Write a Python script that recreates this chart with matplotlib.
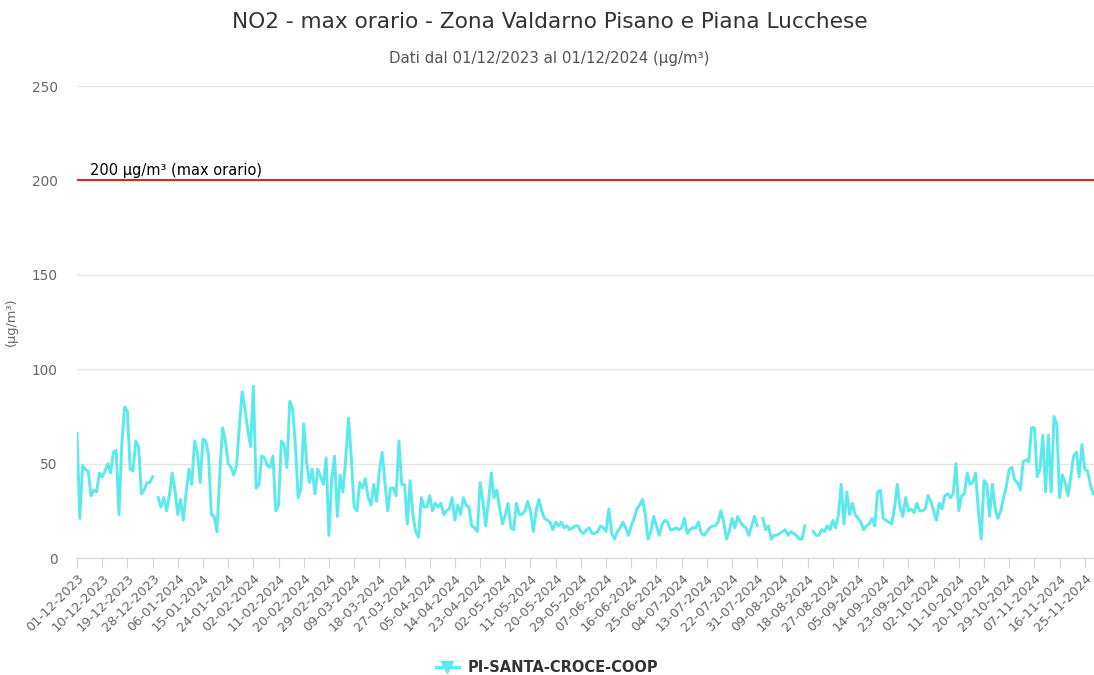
import numpy as np
import pandas as pd
import matplotlib
matplotlib.use("Agg")
import matplotlib.pyplot as plt
from matplotlib.lines import Line2D

nan = np.nan

# valori giornalieri NO2 (max orario), dal 01-12-2023 in poi
no2_dic = [66, 21, 49, 47, 46, 33, 36, 35, 45, 43,
           46, 50, 45, 56, 57, 23, 60, 80, 78, 47,
           46, 62, 59, 34, 36, 40, 40, 43, nan, 32,
           27]
no2_gen = [32, 25, 33, 45, 36, 23, 31, 20, 35,
           47, 39, 62, 56, 40, 63, 62, 54, 23, 22,
           14, 44, 69, 62, 50, 48, 44, 49, 70, 88,
           79, 68]
no2_feb = [59, 91, 37, 39, 54, 53, 49, 48,
           54, 25, 28, 62, 60, 48, 83, 79, 60, 32,
           37, 71, 51, 40, 47, 34, 47, 43, 39]
no2_mar = [53, 12, 42, 54, 22, 44, 35, 53, 74, 53, 27,
           25, 40, 37, 42, 32, 28, 39, 30, 46, 56,
           40, 25, 37, 37, 33, 62, 39, 39, 18, 41, 23]
no2_apr = [14, 11, 32, 27, 27, 33, 25, 29, 27,
           29, 23, 25, 26, 32, 20, 28, 23, 32, 28,
           27, 17, 16, 14, 40, 30, 17, 30, 45, 32, 36]
no2_mag = [26, 18, 23, 29, 16, 15, 29, 23, 23,
           25, 30, 25, 14, 25, 31, 25, 21, 20, 19,
           15, 19, 17, 19, 16, 17, 15, 16, 17, 17, 14, 13]
no2_giu = [15, 16, 13, 13, 14, 17, 16, 14,
           26, 13, 10, 14, 16, 19, 16, 12, 17, 21,
           26, 28, 31, 23, 10, 14, 22, 17, 12, 18, 20, 19]
no2_lug = [15, 15, 16, 15, 16, 21, 13, 15,
           16, 16, 19, 13, 12, 14, 16, 17, 17, 19,
           25, 19, 10, 14, 21, 16, 22, 19, 17, 16,
           12, 17, 22]
no2_ago = [17, nan, 21, 15, 17, 10, 12,
           12, 13, 14, 15, 12, 14, 13, 12, 10, 10,
           17, nan, nan, 14, 12, 12, 15, 14, 17, 15,
           20, 16, 23, 39, 18]
no2_set = [35, 23, 29, 23, 21,
           19, 15, 17, 18, 21, 17, 35, 36, 21, 20,
           19, 18, 26, 39, 27, 22, 32, 25, 26, 24,
           29, 25, 25, 26, 33]
no2_ott = [30, 25, 20, 29, 26,
           33, 34, 32, 34, 50, 25, 33, 34, 45, 39,
           40, 45, 25, 10, 41, 39, 22, 39, 26, 21,
           25, 32, 38, 47, 48, 41]
no2_nov = [40, 36, 51, 52,
           51, 69, 69, 43, 47, 65, 35, 65, 35, 75,
           71, 32, 44, 40, 33, 43, 54, 56, 43, 60,
           47, 46, 39, 34]

no2 = (no2_dic + no2_gen + no2_feb + no2_mar + no2_apr + no2_mag + no2_giu
       + no2_lug + no2_ago + no2_set + no2_ott + no2_nov)
date = pd.date_range("2023-12-01", periods=len(no2), freq="D")
giorni = np.arange(len(no2))

limite = 200
etichetta_limite = "200 µg/m³ (max orario)"
stazione = "PI-SANTA-CROCE-COOP"
colore = "#5ce9ec"

# %%
fig = plt.figure(figsize=(10.94, 6.75), dpi=100)
ax = fig.add_axes([77 / 1094, 1 - 558 / 675, 1 - 77 / 1094, 472 / 675])

ax.plot(giorni, no2, color=colore, lw=2.1, solid_joinstyle="round")
ax.axhline(limite, color="#cc2b2b", lw=1.5, zorder=3)
ax.text(4.6, limite + 1.2, etichetta_limite, fontsize=10.5, color="black",
        va="bottom", ha="left")

ax.set_ylim(0, 250)
ax.set_xlim(0, 363.3)
ax.set_yticks(range(0, 251, 50))
ax.grid(axis="y", color="#e6e6e6", lw=1)
ax.set_axisbelow(True)

tick_pos = giorni[::9]
ax.set_xticks(tick_pos)
ax.set_xticklabels([d.strftime("%d-%m-%Y") for d in date[::9]],
                   rotation=45, ha="right", va="top", rotation_mode="anchor")

for s in ["top", "right", "left"]:
    ax.spines[s].set_visible(False)
ax.spines["bottom"].set_color("#ccd6eb")
ax.tick_params(axis="x", length=7, color="#ccd6eb", labelsize=9.3,
               labelcolor="#666666", pad=3)
ax.tick_params(axis="y", length=0, labelsize=9.8, labelcolor="#666666",
               pad=14)

ax.set_ylabel("(µg/m³)", fontsize=9.3, color="#666666")
ax.yaxis.set_label_coords(-0.058, 0.5)

fig.text(0.503, 1 - 22 / 675, "NO2 - max orario - Zona Valdarno Pisano e Piana Lucchese",
         ha="center", va="center", fontsize=15.6, color="#333333")
fig.text(0.502, 1 - 58 / 675, "Dati dal 01/12/2023 al 01/12/2024 (µg/m³)",
         ha="center", va="center", fontsize=10.8, color="#555555")

handle = Line2D([], [], color=colore, lw=2.2, marker="v", markersize=8)
fig.legend([handle], [stazione], loc="center", bbox_to_anchor=(0.5, 1 - 668 / 675),
           frameon=False, prop={"weight": "bold", "size": 10.5}, labelcolor="#333333",
           handlelength=1.6, handletextpad=0.6)

fig.savefig("out.png", dpi=100)
